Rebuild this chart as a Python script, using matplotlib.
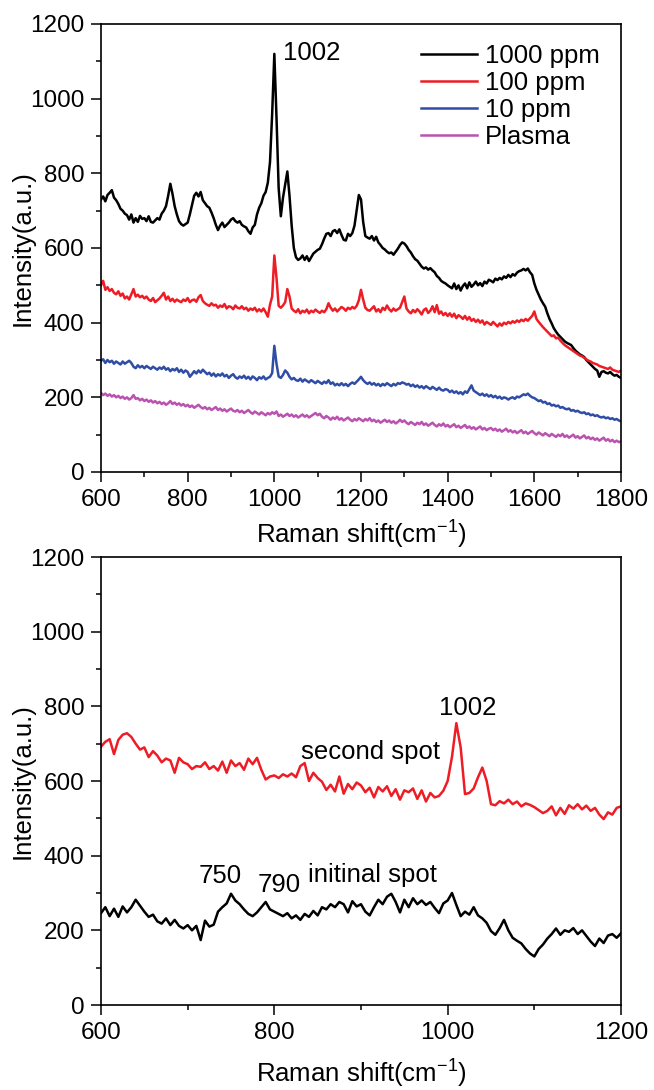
import numpy as np
import matplotlib
matplotlib.use("Agg")
from matplotlib import pyplot as plt

plt.rcParams['font.family'] = ['Liberation Sans', 'DejaVu Sans']
plt.rcParams['mathtext.fontset'] = 'custom'
plt.rcParams['mathtext.rm'] = 'Liberation Sans'
plt.rcParams['mathtext.it'] = 'Liberation Sans:italic'

# ---- top panel: spectra at different concentrations (600-1800, step 5) ----
shift_top = np.arange(600, 1801, 5)

ppm1000 = [
    730, 738, 725, 742, 748, 755, 735, 728, 718, 705, 700, 692, 688, 676, 690, 668, 680, 670, 686, 678,
    680, 672, 685, 670, 668, 674, 680, 676, 692, 700, 712, 740, 772, 745, 712, 690, 672, 664, 660, 664,
    668, 690, 715, 740, 748, 738, 750, 728, 720, 712, 708, 695, 680, 662, 648, 660, 668, 656, 662, 668,
    676, 680, 672, 668, 672, 662, 658, 655, 645, 638, 655, 662, 690, 708, 720, 740, 750, 775, 830, 960,
    1120, 950, 760, 685, 735, 770, 805, 740, 660, 600, 575, 568, 572, 580, 568, 578, 565, 575, 585, 590,
    595, 598, 610, 625, 638, 640, 632, 645, 648, 640, 650, 635, 622, 620, 638, 632, 640, 660, 700, 742,
    730, 670, 632, 628, 625, 632, 620, 630, 615, 608, 600, 596, 590, 586, 588, 582, 590, 598, 608, 615,
    612, 605, 595, 588, 578, 570, 566, 558, 550, 545, 548, 542, 546, 540, 535, 525, 520, 512, 508, 505,
    500, 496, 492, 505, 490, 500, 486, 498, 505, 492, 508, 496, 502, 510, 500, 506, 498, 510, 505, 515,
    512, 508, 518, 514, 520, 516, 524, 520, 528, 522, 530, 526, 534, 538, 540, 544, 540, 545, 535, 528,
    505, 488, 475, 462, 452, 443, 425, 410, 398, 385, 376, 368, 362, 356, 350, 346, 343, 340, 332, 325,
    320, 315, 312, 308, 300, 294, 288, 282, 276, 272, 255, 268, 270, 266, 264, 268, 262, 258, 260, 255,
    252]

ppm100 = [
    500, 512, 488, 495, 485, 490, 480, 476, 484, 472, 478, 465, 470, 462, 476, 490, 470, 475, 468, 472,
    465, 470, 462, 458, 466, 455, 460, 465, 472, 480, 462, 470, 458, 464, 456, 462, 458, 455, 462, 458,
    466, 455, 460, 462, 456, 468, 474, 458, 452, 448, 445, 452, 446, 448, 440, 446, 442, 450, 438, 444,
    442, 436, 446, 440, 438, 444, 436, 440, 432, 438, 434, 440, 430, 436, 430, 438, 428, 416, 448, 470,
    580, 520, 445, 440, 446, 455, 490, 470, 438, 432, 428, 436, 425, 432, 428, 435, 425, 432, 428, 435,
    430, 426, 432, 428, 436, 452, 440, 432, 438, 430, 436, 442, 438, 432, 440, 436, 442, 438, 445, 460,
    488, 462, 440, 434, 432, 438, 444, 430, 436, 428, 440, 434, 446, 436, 430, 438, 432, 436, 440, 455,
    470, 438, 430, 425, 434, 428, 436, 430, 422, 434, 438, 426, 432, 444, 428, 447, 424, 430, 420, 426,
    418, 425, 416, 424, 412, 420, 416, 410, 418, 408, 415, 405, 410, 402, 408, 400, 406, 395, 402, 398,
    394, 402, 396, 390, 398, 392, 400, 396, 402, 398, 404, 400, 406, 402, 408, 404, 410, 405, 412, 418,
    430, 410, 402, 395, 388, 382, 376, 370, 364, 366, 358, 360, 352, 346, 340, 336, 332, 328, 324, 320,
    316, 312, 310, 306, 302, 298, 296, 292, 290, 288, 284, 282, 280, 278, 276, 280, 274, 272, 270, 268,
    272]

ppm10 = [
    298, 302, 292, 300, 294, 298, 290, 296, 292, 288, 296, 290, 294, 298, 292, 282, 278, 286, 280, 284,
    278, 284, 280, 276, 282, 278, 274, 280, 276, 282, 274, 278, 270, 276, 272, 278, 268, 274, 266, 272,
    268, 255, 262, 270, 264, 272, 266, 274, 268, 262, 266, 258, 264, 256, 262, 258, 264, 256, 260, 252,
    258, 262, 254, 250, 256, 252, 258, 250, 255, 248, 256, 252, 246, 254, 250, 256, 248, 252, 255, 265,
    338, 290, 256, 252, 260, 272, 266, 255, 248, 252, 246, 244, 250, 242, 248, 244, 240, 246, 242, 238,
    244, 240, 236, 242, 238, 246, 236, 240, 232, 236, 232, 238, 232, 236, 230, 236, 240, 236, 242, 248,
    255, 246, 240, 236, 240, 234, 238, 232, 236, 230, 236, 232, 238, 234, 230, 236, 232, 238, 236, 240,
    238, 234, 236, 230, 234, 228, 232, 226, 230, 224, 230, 226, 222, 228, 224, 220, 226, 220, 218, 222,
    220, 214, 218, 212, 216, 210, 214, 208, 216, 212, 222, 232, 218, 214, 210, 206, 210, 204, 208, 202,
    206, 200, 204, 198, 202, 196, 200, 198, 194, 198, 200, 196, 202, 200, 204, 208, 206, 210, 204, 200,
    198, 194, 190, 192, 186, 188, 182, 184, 178, 180, 176, 178, 172, 174, 170, 168, 170, 164, 166, 162,
    164, 160, 158, 160, 155, 157, 152, 154, 150, 152, 148, 146, 148, 144, 146, 142, 144, 140, 142, 138,
    136]

plasma = [
    212, 206, 210, 204, 208, 202, 206, 200, 204, 198, 202, 196, 200, 194, 198, 206, 196, 198, 192, 196,
    190, 194, 188, 192, 186, 190, 184, 188, 182, 186, 180, 184, 190, 182, 186, 180, 184, 178, 182, 176,
    180, 174, 178, 172, 176, 180, 174, 170, 174, 168, 172, 166, 170, 174, 166, 170, 164, 168, 162, 166,
    170, 164, 162, 166, 160, 164, 158, 162, 166, 160, 156, 162, 158, 154, 160, 156, 152, 158, 154, 160,
    156, 162, 150, 154, 148, 152, 156, 150, 154, 148, 152, 146, 150, 154, 148, 152, 146, 150, 154, 158,
    152, 156, 148, 144, 150, 146, 140, 146, 142, 148, 140, 144, 138, 142, 146, 140, 136, 142, 138, 144,
    140, 136, 142, 138, 144, 136, 140, 134, 138, 132, 136, 140, 134, 138, 132, 136, 130, 134, 140, 134,
    138, 132, 128, 134, 130, 126, 132, 128, 134, 126, 130, 124, 128, 132, 126, 122, 128, 124, 130, 122,
    126, 120, 124, 128, 120, 124, 118, 122, 126, 118, 122, 116, 120, 114, 118, 122, 114, 118, 112, 116,
    118, 112, 116, 110, 114, 108, 112, 116, 108, 112, 106, 110, 104, 108, 112, 104, 108, 102, 106, 110,
    104, 100, 106, 102, 98, 104, 100, 96, 102, 98, 94, 100, 96, 102, 94, 98, 92, 96, 100, 92,
    96, 90, 94, 98, 90, 94, 88, 92, 86, 90, 84, 88, 92, 84, 88, 82, 86, 80, 84, 80,
    82]

# ---- bottom panel: two measurement spots (600-1200, step 5) ----
shift_bot = np.arange(600, 1201, 5)

second_spot = [
    692, 705, 712, 672, 710, 724, 728, 718, 700, 684, 690, 664, 680, 668, 650, 660, 655, 622, 662, 650,
    645, 632, 640, 638, 650, 632, 640, 628, 652, 622, 655, 640, 648, 630, 660, 645, 662, 630, 604, 612,
    615, 608, 618, 612, 620, 610, 640, 648, 600, 622, 608, 598, 576, 590, 572, 612, 566, 592, 578, 596,
    588, 570, 582, 556, 584, 572, 586, 560, 578, 550, 575, 570, 580, 552, 575, 545, 568, 556, 560, 574,
    600, 665, 755, 690, 565, 568, 580, 610, 636, 600, 538, 535, 546, 540, 550, 538, 545, 532, 540, 536,
    530, 522, 514, 520, 532, 508, 528, 512, 535, 526, 538, 524, 534, 520, 528, 510, 498, 516, 510, 528,
    532]

initial_spot = [
    246, 262, 238, 258, 236, 264, 248, 262, 282, 266, 250, 236, 242, 224, 218, 232, 214, 228, 212, 205,
    214, 200, 212, 174, 226, 210, 215, 250, 262, 272, 298, 280, 270, 256, 244, 238, 248, 262, 276, 256,
    250, 244, 238, 246, 232, 240, 228, 244, 236, 252, 240, 262, 256, 270, 262, 276, 270, 248, 278, 264,
    270, 250, 240, 262, 282, 270, 290, 298, 276, 248, 282, 262, 286, 270, 280, 268, 276, 260, 246, 272,
    280, 300, 268, 238, 250, 242, 262, 240, 232, 220, 198, 188, 206, 228, 200, 180, 172, 165, 150, 138,
    130, 150, 162, 178, 190, 205, 188, 200, 196, 206, 190, 200, 185, 170, 158, 178, 166, 186, 190, 180,
    192]

c_red = '#EE1C25'
c_blue = '#2F4DA5'
c_mag = '#BA52B0'

fig = plt.figure(figsize=(6.54, 10.9), dpi=100)
ax1 = fig.add_axes([101/654, 1-472/1090, 520/654, 448/1090])
ax2 = fig.add_axes([101/654, 1-1005/1090, 520/654, 448/1090])

lw = 1.8
ax1.plot(shift_top, ppm1000, color='black', lw=lw, label='1000 ppm')
ax1.plot(shift_top, ppm100, color=c_red, lw=lw, label='100 ppm')
ax1.plot(shift_top, ppm10, color=c_blue, lw=lw, label='10 ppm')
ax1.plot(shift_top, plasma, color=c_mag, lw=lw, label='Plasma')
ax1.text(1021, 1104, '1002', fontsize=18.5)
ax1.legend(loc='upper left', bbox_to_anchor=(0.615, 0.955), frameon=False, fontsize=18.5,
           handlelength=2.2, handletextpad=0.3, labelspacing=0.12, borderpad=0, borderaxespad=0)
ax1.set_xlim(600, 1800)
ax1.set_xticks(np.arange(600, 1801, 200))
ax1.set_xticks(np.arange(700, 1800, 200), minor=True)

ax2.plot(shift_bot, second_spot, color=c_red, lw=lw)
ax2.plot(shift_bot, initial_spot, color='black', lw=lw)
ax2.text(1023, 778, '1002', fontsize=18.5, ha='center')
ax2.text(831, 660, 'second spot', fontsize=18.5)
ax2.text(839, 330, 'initinal spot', fontsize=18.5)
ax2.text(737, 326, '750', fontsize=18.5, ha='center')
ax2.text(806, 303, '790', fontsize=18.5, ha='center')
ax2.set_xlim(600, 1200)
ax2.set_xticks(np.arange(600, 1201, 200))
ax2.set_xticks(np.arange(700, 1200, 200), minor=True)

for ax, xlab_y in ((ax1, -0.105), (ax2, -0.118)):
    ax.set_ylim(0, 1200)
    ax.set_yticks(np.arange(0, 1201, 200))
    ax.set_yticks(np.arange(100, 1200, 200), minor=True)
    ax.tick_params(which='both', direction='out', width=1.1, labelsize=17.5, pad=5,
                   top=False, right=False)
    ax.tick_params(which='major', length=7)
    ax.tick_params(which='minor', length=3.5)
    for s in ax.spines.values():
        s.set_linewidth(1.2)
    ax.set_xlabel('Raman shift(cm$^{-1}$)', fontsize=18.5)
    ax.set_ylabel('Intensity(a.u.)', fontsize=18.5)
    ax.xaxis.set_label_coords(0.5, xlab_y)
    ax.yaxis.set_label_coords(-0.128, 0.5)

plt.savefig('out.png', dpi=100)
